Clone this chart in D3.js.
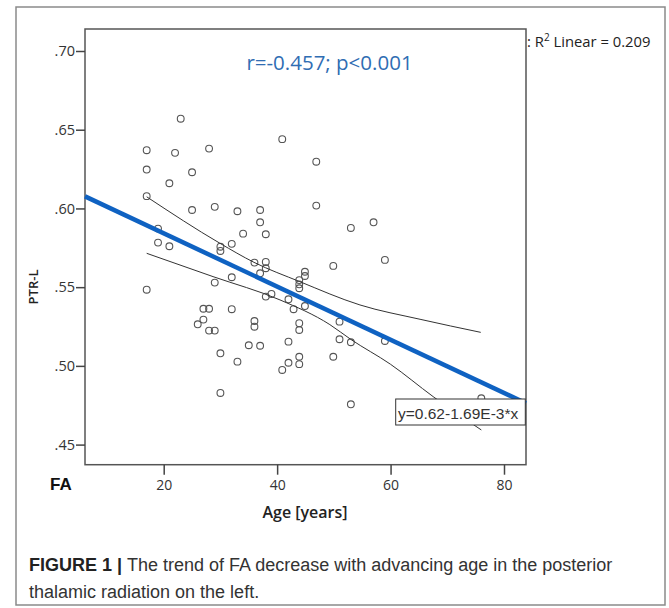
<!DOCTYPE html>
<html>
<head>
<meta charset="utf-8">
<script src="https://cdn.jsdelivr.net/npm/d3@7/dist/d3.min.js"></script>
<style>
  html, body { margin: 0; padding: 0; background: #fff; }
  svg { display: block; }
</style>
</head>
<body>
<svg id="chart" width="669" height="608"></svg>
<script>
// ---------- data ----------
const ages = [
  17, 17, 17, 17,
  19, 19, 21, 21, 22, 23,
  25, 25, 26, 27, 27,
  28, 28, 28, 29, 29, 29,
  30, 30, 30, 30,
  32, 32, 32, 33, 33, 34, 35,
  36, 36, 36, 37, 37, 37, 37,
  38, 38, 38, 38, 39,
  40.9, 40.9, 42, 42, 42, 42.9,
  43.9, 43.9, 43.9, 43.9, 43.9, 43.9, 43.9,
  44.9, 44.9, 44.9,
  46.9, 46.9, 49.9, 49.9, 51, 51,
  53, 53, 53, 57, 59, 59, 76
];
const ptrL = [
  0.637, 0.6247, 0.6078, 0.5484,
  0.5872, 0.5783, 0.576, 0.616, 0.6353, 0.657,
  0.623, 0.599, 0.5264, 0.5363, 0.5294,
  0.638, 0.5363, 0.5224, 0.601, 0.5529, 0.5224,
  0.5757, 0.573, 0.508, 0.4828,
  0.5775, 0.5563, 0.536, 0.5982, 0.5027, 0.584, 0.5131,
  0.5656, 0.5285, 0.5249, 0.599, 0.5912, 0.5588, 0.5128,
  0.5836, 0.566, 0.562, 0.544, 0.5457,
  0.644, 0.4974, 0.5423, 0.5154, 0.502, 0.536,
  0.5545, 0.5518, 0.5493, 0.5271, 0.5228, 0.5058, 0.5011,
  0.5598, 0.5571, 0.538,
  0.6297, 0.6018, 0.5635, 0.5058, 0.5281, 0.5169,
  0.5876, 0.515, 0.4756, 0.5912, 0.5673, 0.5158, 0.4794
];

// fit line (as printed on the chart)
const fitIntercept = 0.618;
const fitSlope = -0.00169;

// 95% confidence band of the mean
const bandUpperAge = [17, 29.9, 35.9, 44, 54.6, 65.2, 75.9];
const bandUpperVal = [0.6074, 0.5779, 0.5658, 0.5535, 0.5387, 0.5296, 0.5213];
const bandLowerAge = [17, 28.7, 40.5, 49.3, 53, 60, 67.5, 76];
const bandLowerVal = [0.5715, 0.5567, 0.5419, 0.5262, 0.5168, 0.5010, 0.4805, 0.4593];

const xTicks = [20, 40, 60, 80];
const yTicks = [0.45, 0.50, 0.55, 0.60, 0.65, 0.70];
const yTickLabels = [".45", ".50", ".55", ".60", ".65", ".70"];

const xTitle = "Age [years]";
const yTitle = "PTR-L";
const statText = "r=-0.457; p<0.001";
const eqText = "y=0.62-1.69E-3*x";
const panelLabel = "FA";
const captionBold = "FIGURE 1 | ";
const captionLine1 = "The trend of FA decrease with advancing age in the posterior";
const captionLine2 = "thalamic radiation on the left.";

// ---------- layout ----------
const svg = d3.select("#chart");
const L = 85, R = 526, T = 29, B = 464.7;

const x = d3.scaleLinear().domain([20, 80]).range([163.7, 504]);
const y = d3.scaleLinear().domain([0.45, 0.70]).range([444.6, 51]);
const xMin = x.invert(L), xMax = x.invert(R);

// outer frame
svg.append("rect")
  .attr("x", 16).attr("y", 7).attr("width", 649).attr("height", 598)
  .attr("fill", "none").attr("stroke", "#8a8a8a").attr("stroke-width", 1.5);

// plot frame
svg.append("rect")
  .attr("x", L).attr("y", T).attr("width", R - L).attr("height", B - T)
  .attr("fill", "#fff").attr("stroke", "#555").attr("stroke-width", 1.5);

// axes
const yAxis = d3.axisLeft(y).tickValues(yTicks)
  .tickFormat((d, i) => yTickLabels[i]).tickSize(9).tickPadding(1);
const gy = svg.append("g").attr("transform", `translate(${L},0)`).call(yAxis);
gy.select(".domain").remove();
gy.selectAll(".tick line").attr("stroke", "#444").attr("stroke-width", 1.5);
gy.selectAll(".tick text").attr("fill", "#333")
  .style("font-family", "'Open Sans', sans-serif").style("font-size", "14.5px");

const xAxis = d3.axisBottom(x).tickValues(xTicks).tickSize(10).tickPadding(5);
const gx = svg.append("g").attr("transform", `translate(0,${B})`).call(xAxis);
gx.select(".domain").remove();
gx.selectAll(".tick line").attr("stroke", "#444").attr("stroke-width", 1.5);
gx.selectAll(".tick text").attr("fill", "#333")
  .style("font-family", "'Open Sans', sans-serif").style("font-size", "14px");

// points
svg.append("g").selectAll("circle")
  .data(ages.map((a, i) => [a, ptrL[i]]))
  .join("circle")
  .attr("cx", d => x(d[0])).attr("cy", d => y(d[1])).attr("r", 3.4)
  .attr("fill", "none").attr("stroke", "#555").attr("stroke-width", 1.1);

// confidence bands
const band = d3.line().x(d => x(d[0])).y(d => y(d[1])).curve(d3.curveMonotoneX);
svg.append("path")
  .attr("d", band(bandUpperAge.map((a, i) => [a, bandUpperVal[i]])))
  .attr("fill", "none").attr("stroke", "#333").attr("stroke-width", 1);
svg.append("path")
  .attr("d", band(bandLowerAge.map((a, i) => [a, bandLowerVal[i]])))
  .attr("fill", "none").attr("stroke", "#333").attr("stroke-width", 1);

// fit line
svg.append("line")
  .attr("x1", x(xMin)).attr("y1", y(fitIntercept + fitSlope * xMin))
  .attr("x2", x(xMax)).attr("y2", y(fitIntercept + fitSlope * xMax))
  .attr("stroke", "#0f62c2").attr("stroke-width", 4.5);

// equation box
const eqG = svg.append("g");
eqG.append("rect")
  .attr("x", 395.7).attr("y", 399).attr("width", 129.6).attr("height", 26)
  .attr("fill", "#fff").attr("stroke", "#333").attr("stroke-width", 1);
eqG.append("text").attr("x", 398).attr("y", 418.5)
  .style("font-family", "'Liberation Sans', Arial, sans-serif").style("font-size", "15.5px")
  .attr("fill", "#333").text(eqText);

// stat text
svg.append("text").attr("x", 329.5).attr("y", 70).attr("text-anchor", "middle")
  .style("font-family", "'Open Sans', sans-serif").style("font-size", "20.5px")
  .attr("fill", "#2f6db3").text(statText);

// R2 legend
const r2 = svg.append("text").attr("x", 527).attr("y", 47)
  .style("font-family", "'Open Sans', sans-serif").style("font-size", "14.8px").attr("fill", "#222");
r2.append("tspan").text(": R");
r2.append("tspan").attr("dy", -6).style("font-size", "10px").text("2");
r2.append("tspan").attr("dy", 6).text(" Linear = 0.209");

// panel label
svg.append("text").attr("x", 50).attr("y", 490)
  .style("font-family", "'Liberation Sans', Arial, sans-serif").style("font-size", "17px")
  .style("font-weight", "bold").attr("fill", "#111").text(panelLabel);

// axis titles
svg.append("text").attr("x", 305).attr("y", 518).attr("text-anchor", "middle")
  .style("font-family", "'Open Sans', sans-serif").style("font-size", "16px")
  .style("font-weight", "600").attr("fill", "#222").text(xTitle);
svg.append("text").attr("transform", "translate(38,287) rotate(-90)")
  .attr("text-anchor", "middle")
  .style("font-family", "'Open Sans', sans-serif").style("font-size", "13px")
  .style("font-weight", "600").attr("fill", "#222").text(yTitle);

// caption
const cap1 = svg.append("text").attr("x", 29).attr("y", 571)
  .style("font-family", "'Liberation Sans', Arial, sans-serif").style("font-size", "18px")
  .attr("fill", "#333");
cap1.append("tspan").style("font-weight", "bold").attr("fill", "#222").text(captionBold);
cap1.append("tspan").text(captionLine1);
svg.append("text").attr("x", 29).attr("y", 598)
  .style("font-family", "'Liberation Sans', Arial, sans-serif").style("font-size", "18px")
  .attr("fill", "#333").text(captionLine2);
</script>
</body>
</html>
